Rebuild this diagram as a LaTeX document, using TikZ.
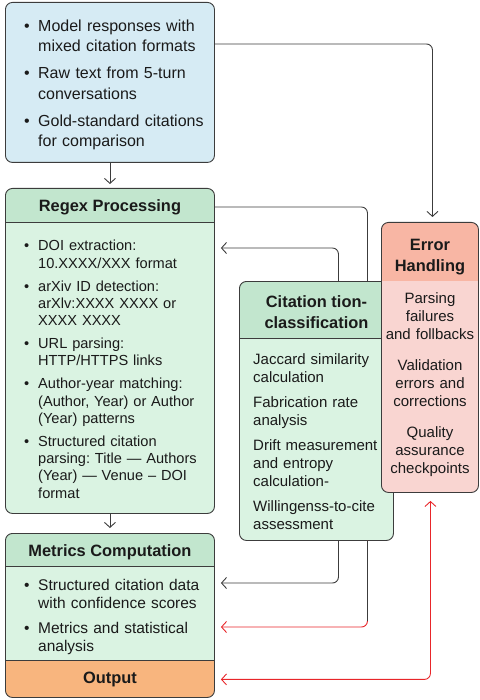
\documentclass[tikz,border=0pt]{standalone}
\usepackage{fontspec}
\setmainfont{Liberation Sans}
\usetikzlibrary{arrows.meta}

\definecolor{edgegray}{HTML}{3C3C3C}
\definecolor{inkblack}{HTML}{1A1A1A}
\definecolor{inblue}{HTML}{D6EBF4}
\definecolor{headgreen}{HTML}{C2E6CE}
\definecolor{bodygreen}{HTML}{DAF3E2}
\definecolor{outorange}{HTML}{F8B57E}
\definecolor{errhead}{HTML}{F8B6A4}
\definecolor{errbody}{HTML}{F9D5D1}
\definecolor{linkred}{HTML}{E8262A}

\frenchspacing
\setlength{\parindent}{0pt}
\setlength{\parskip}{0pt}
\newlength{\itemgap}
% bullet item with hanging indent
\newcommand{\bitem}[1]{\par\hangindent=14pt\hangafter=1\noindent\makebox[14pt][l]{\textbullet}#1\par\vspace{\itemgap}}

\begin{document}
\begin{tikzpicture}[x=1pt, y=-1pt,
    >={Straight Barb[length=5pt,width=11pt]}, % arrow head style
    panel/.style={draw=edgegray, line width=0.9pt, rounded corners=7pt,
      anchor=north west, inner sep=0pt},
    boxtitle/.style={font=\bfseries\fontsize{16.4}{21}\selectfont, text=inkblack,
      align=center, inner sep=0pt},
    listtext/.style={anchor=north west, inner sep=0pt, align=left, text=inkblack},
    link/.style={draw=edgegray, line width=0.9pt, rounded corners=6pt},
    redlink/.style={link, draw=linkred}
  ]
\useasboundingbox (0,0) rectangle (479,700);

% inputs
\node[panel, fill=inblue, minimum width=209pt, minimum height=160pt] (inputs) at (5,2) {};
\node[listtext, text width=184pt, font={\fontsize{16}{20.5}\selectfont\setlength{\itemgap}{6.5pt}}] (inputlist) at (24,10.5) {%
  \bitem{Model responses with\newline mixed citation formats}%
  \bitem{Raw text from 5-turn\newline conversations}%
  \bitem{Gold-standard citations\newline for comparison}};

% regex processing
\node[panel, fill=bodygreen, minimum width=209pt, minimum height=325pt,
  path picture={
    \fill[headgreen, sharp corners] (path picture bounding box.north west) rectangle ([yshift=-34pt]path picture bounding box.north east);
    \draw[edgegray, line width=0.9pt, sharp corners] ([yshift=-34pt]path picture bounding box.north west) -- ([yshift=-34pt]path picture bounding box.north east);}] (regex) at (5,188) {};
\node[boxtitle] (regextitle) at ([yshift=-19.5pt]regex.north) {Regex Processing};
\node[listtext, text width=184pt, font={\fontsize{14.6}{17.3}\selectfont\setlength{\itemgap}{5.6pt}}] (regexlist) at (24,233.3) {%
  \bitem{DOI extraction:\newline 10.XXXX/XXX format}%
  \bitem{arXiv ID detection:\newline arXlv:XXXX XXXX or\newline XXXX XXXX}%
  \bitem{URL parsing:\newline HTTP/HTTPS links}%
  \bitem{Author-year matching:\newline (Author, Year) or Author\newline (Year) patterns}%
  \bitem{Structured citation\newline parsing: Title — Authors\newline (Year) — Venue – DOI\newline format}};

% metrics computation and output
\node[panel, fill=bodygreen, minimum width=209pt, minimum height=164pt,
  path picture={
    \fill[headgreen, sharp corners] (path picture bounding box.north west) rectangle ([yshift=-33pt]path picture bounding box.north east);
    \fill[outorange, sharp corners] (path picture bounding box.south west) rectangle ([yshift=37pt]path picture bounding box.south east);
    \draw[edgegray, line width=0.9pt, sharp corners] ([yshift=-33pt]path picture bounding box.north west) -- ([yshift=-33pt]path picture bounding box.north east)
      ([yshift=37pt]path picture bounding box.south west) -- ([yshift=37pt]path picture bounding box.south east);}] (metrics) at (5,533) {};
\node[boxtitle] (metricstitle) at ([yshift=-19.5pt]metrics.north) {Metrics Computation};
\node[listtext, text width=184pt, font={\fontsize{15.5}{18}\selectfont\setlength{\itemgap}{7pt}}] (metricslist) at (24,572) {%
  \bitem{Structured citation data\newline with confidence scores}%
  \bitem{Metrics and statistical\newline analysis}};
\node[boxtitle] (output) at ([yshift=18.5pt]metrics.south) {Output};

% citation classification
\node[panel, fill=bodygreen, minimum width=154pt, minimum height=259pt,
  path picture={
    \fill[headgreen, sharp corners] (path picture bounding box.north west) rectangle ([yshift=-57pt]path picture bounding box.north east);
    \draw[edgegray, line width=0.9pt, sharp corners] ([yshift=-57pt]path picture bounding box.north west) -- ([yshift=-57pt]path picture bounding box.north east);}] (cite) at (239,281) {};
\node[boxtitle] (citetitle) at ([yshift=-31pt]cite.north) {Citation tion-\\classification};
\node[listtext, text width=136pt, font={\fontsize{15}{18}\selectfont}] (citelist) at (253,353) {%
  Jaccard similarity\\calculation\\[7pt]
  Fabrication rate\\analysis\\[7pt]
  Drift measurement\\and entropy\\calculation-\\[7pt]
  Willingenss-to-cite\\assessment};

% error handling
\node[panel, fill=errbody, minimum width=97pt, minimum height=270pt,
  path picture={
    \fill[errhead, sharp corners] (path picture bounding box.north west) rectangle ([yshift=-59pt]path picture bounding box.north east);}] (error) at (381,222) {};
\node[boxtitle] (errortitle) at ([yshift=-35pt]error.north) {Error\\Handling};
\node[anchor=north, inner sep=0pt, align=center, text width=97pt, text=inkblack,
  font={\fontsize{15}{18}\selectfont}] (errorlist) at (430,292) {%
  Parsing\\failures\\and follbacks\\[13pt]
  Validation\\errors and\\corrections\\[13pt]
  Quality\\assurance\\checkpoints};

% connectors
\coordinate (inputsout) at ([yshift=-42pt]inputs.north east);
\coordinate (regexin) at ([yshift=-60pt]regex.north east);
\coordinate (datain) at ([yshift=-50pt]metrics.north east);
\coordinate (statsin) at ([yshift=-94pt]metrics.north east);
\coordinate (fromregex) at ([xshift=51pt]cite.north);
\coordinate (toregex) at ([xshift=22pt]cite.north);
\coordinate (tometrics) at ([xshift=22pt]cite.south);
\coordinate (tostats) at ([xshift=51pt]cite.south);

\draw[link, ->, shorten >=4pt] (inputs.south) -- (regex.north);
\draw[link, ->, shorten >=5pt] (regex.south) -- (metrics.north);
\draw[link, ->, shorten >=5pt] (inputsout) -| ([xshift=2.5pt]error.north);
\draw[link] ([yshift=-19pt]regex.north east) -| (fromregex);
\draw[link, ->, shorten >=6pt] (toregex) |- (regexin);
\draw[link, ->, shorten >=6pt] (tometrics) |- (datain);
\draw[redlink, ->, shorten >=6pt] (tostats) |- (statsin);
\draw[link, shorten >=6pt] (tostats) -- (tostats |- statsin);
\draw[redlink, <->, shorten <=6pt, shorten >=8pt] (metrics.east |- output) -| ([xshift=0.5pt]error.south);
\end{tikzpicture}
\end{document}
